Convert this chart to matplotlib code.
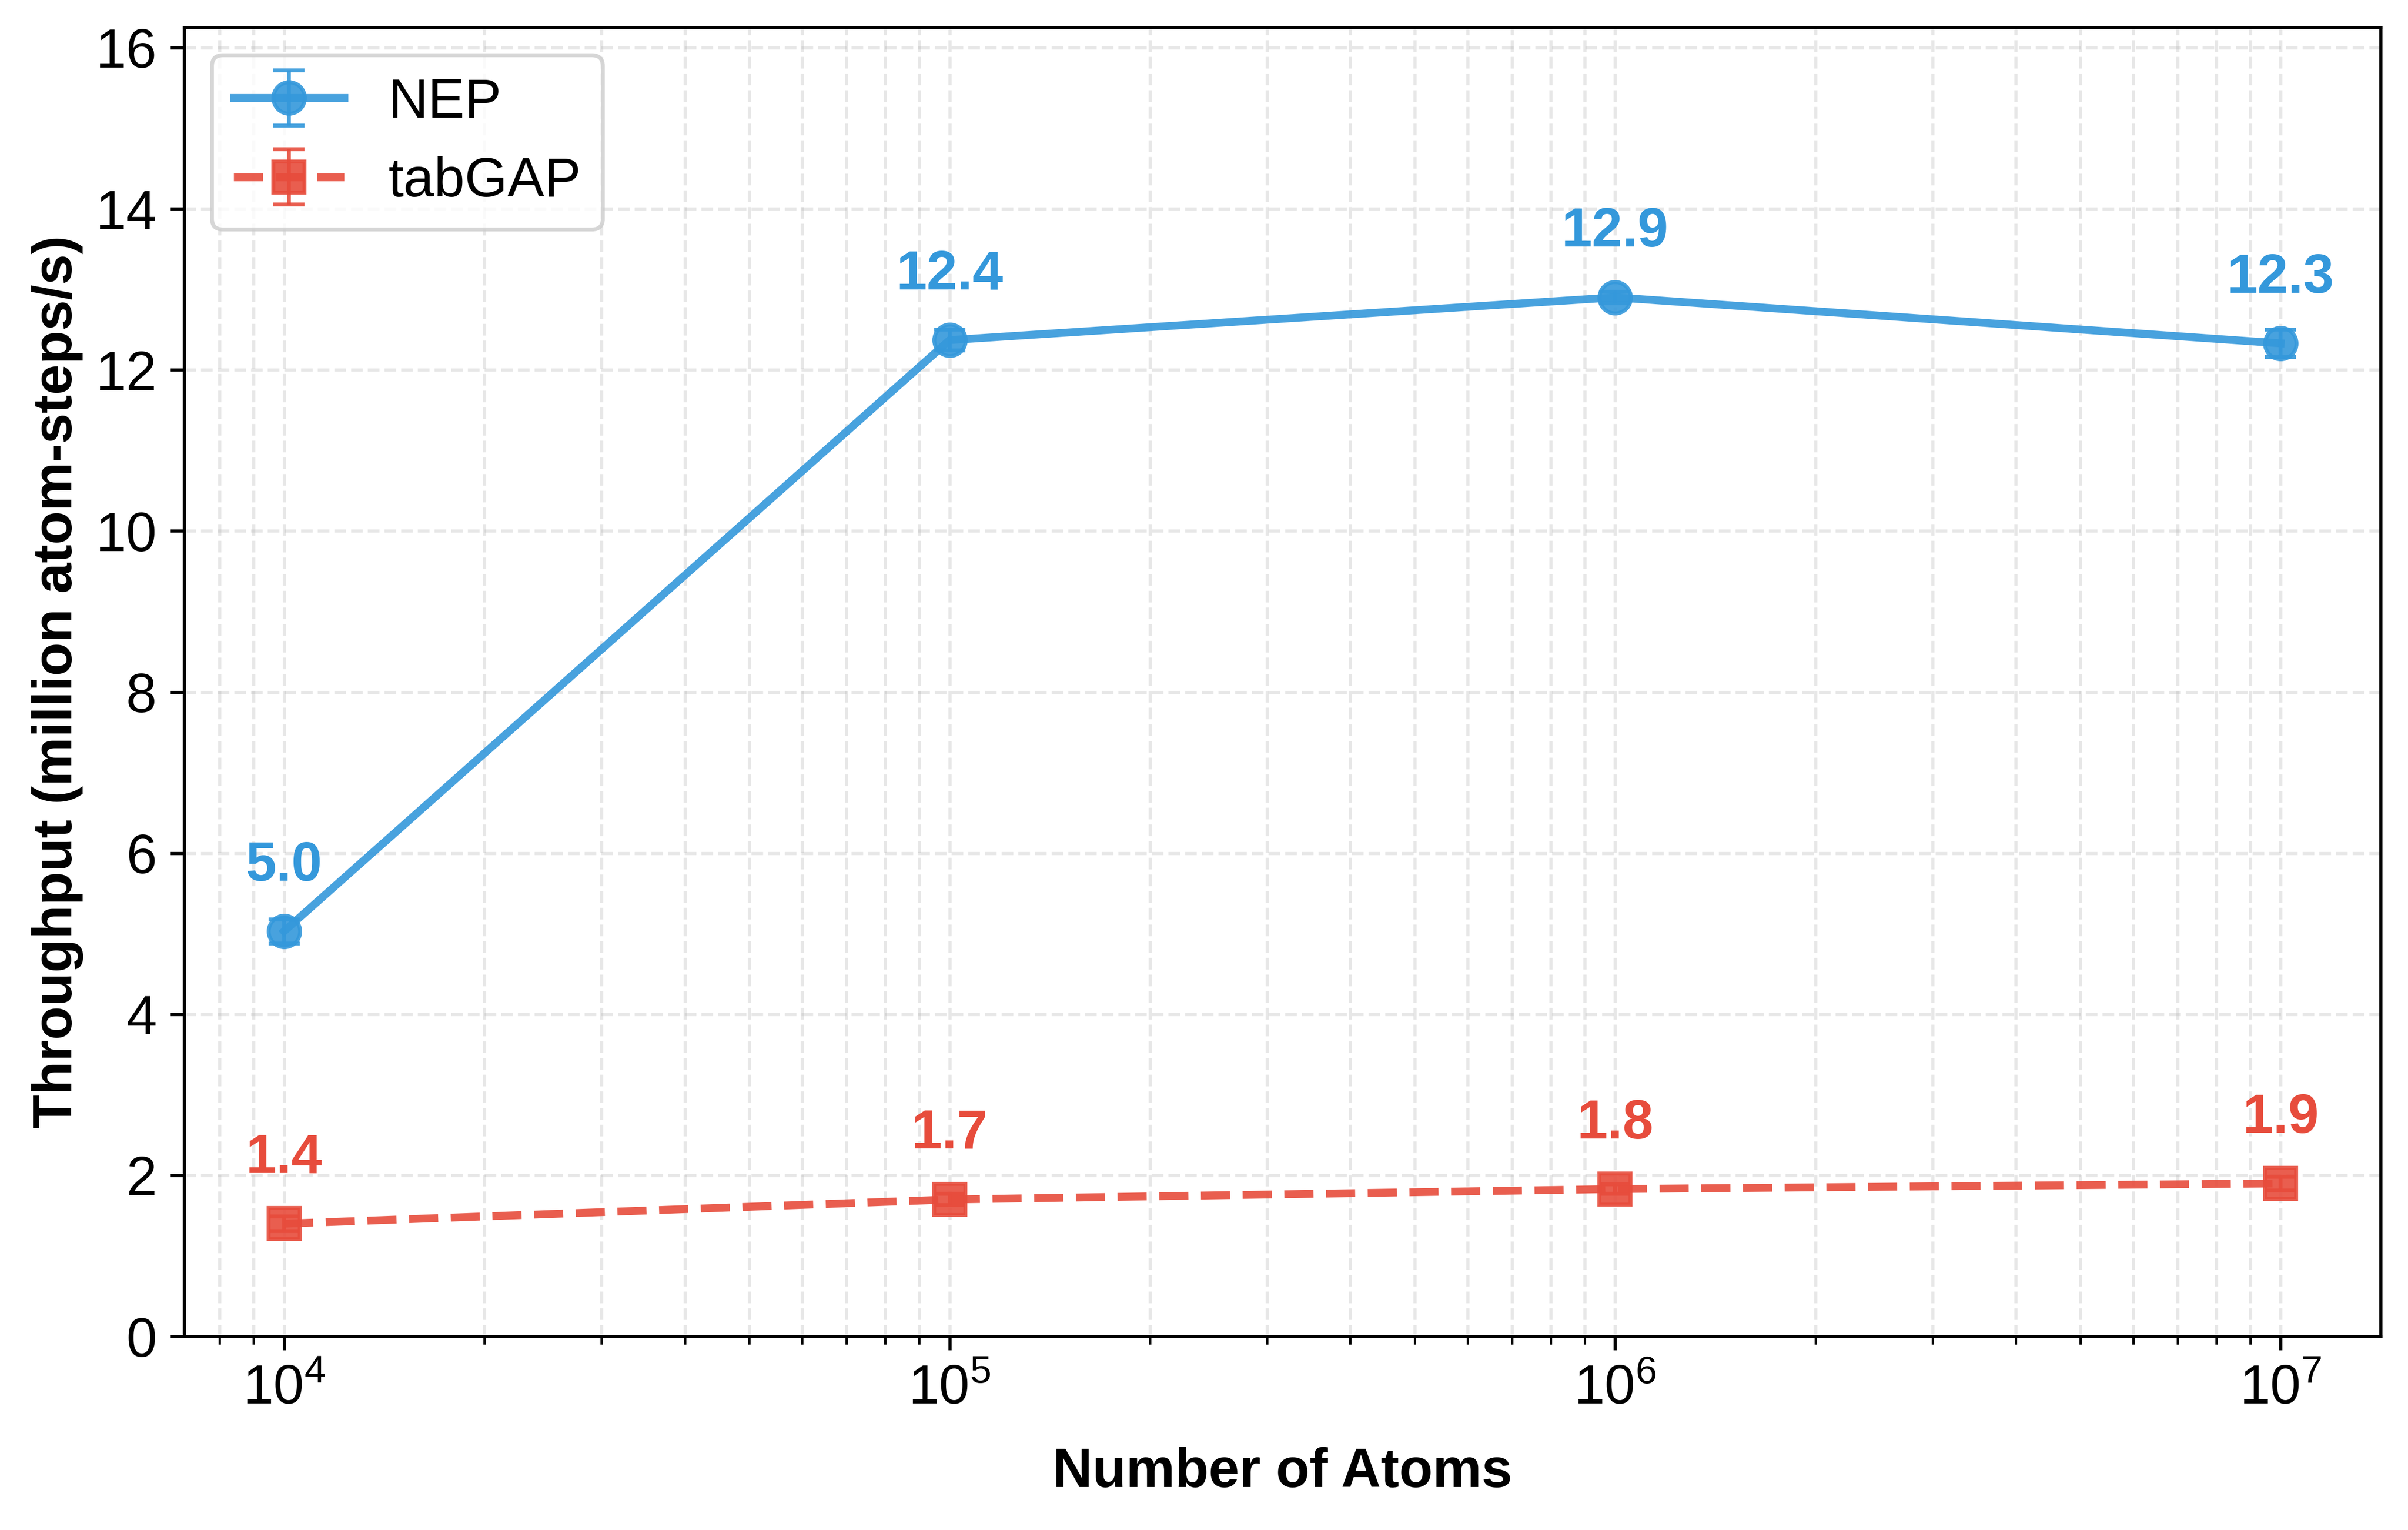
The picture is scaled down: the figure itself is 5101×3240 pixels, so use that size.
import matplotlib
matplotlib.use("Agg")
import matplotlib.pyplot as plt
import numpy as np

plt.rcParams['font.family'] = ['Liberation Sans', 'DejaVu Sans']
plt.rcParams['font.size'] = 14
plt.rcParams['mathtext.fontset'] = 'custom'
plt.rcParams['mathtext.rm'] = 'Liberation Sans'
plt.rcParams['mathtext.it'] = 'Liberation Sans:italic'
plt.rcParams['mathtext.bf'] = 'Liberation Sans:bold'

atoms = [1e4, 1e5, 1e6, 1e7]
nep = [5.03, 12.37, 12.90, 12.33]
nep_err = [0.15, 0.13, 0.07, 0.17]
tabgap = [1.40, 1.70, 1.83, 1.90]
tabgap_err = [0.09, 0.07, 0.06, 0.085]
nep_labels = ["5.0", "12.4", "12.9", "12.3"]
tabgap_labels = ["1.4", "1.7", "1.8", "1.9"]

blue = "#3498db"
red = "#e74c3c"

fig, ax = plt.subplots(figsize=(5101 / 600, 3240 / 600), dpi=600)
fig.subplots_adjust(left=0.0765, right=0.9886, top=0.982, bottom=0.1265)

ax.errorbar(atoms, nep, yerr=nep_err, color=blue, marker='o', markersize=8,
            linewidth=2, linestyle='-', capsize=4, elinewidth=1, capthick=1,
            alpha=0.9, label='NEP')
ax.errorbar(atoms, tabgap, yerr=tabgap_err, color=red, marker='s', markersize=8,
            linewidth=2, linestyle='--', capsize=4, elinewidth=1, capthick=1,
            alpha=0.9, label='tabGAP')

for x, y, t in zip(atoms, nep, nep_labels):
    ax.annotate(t, (x, y), xytext=(0, 10), textcoords='offset points', ha='center', va='bottom',
                fontsize=14, fontweight='bold', color=blue)
for x, y, t in zip(atoms, tabgap, tabgap_labels):
    ax.annotate(t, (x, y), xytext=(0, 10), textcoords='offset points', ha='center', va='bottom',
                fontsize=14, fontweight='bold', color=red)

ax.set_xscale('log')
ax.set_ylim(0, 16.25)
ax.set_xlabel('Number of Atoms', fontsize=14, fontweight='bold', labelpad=8)
ax.set_ylabel('Throughput (million atom-steps/s)', fontsize=14, fontweight='bold', labelpad=3)
ax.tick_params(axis='both', which='major', labelsize=14)
ax.grid(True, which='both', linestyle='--', alpha=0.3)
ax.legend(loc='upper left', fontsize=14)

fig.savefig('out.png', dpi=600)
